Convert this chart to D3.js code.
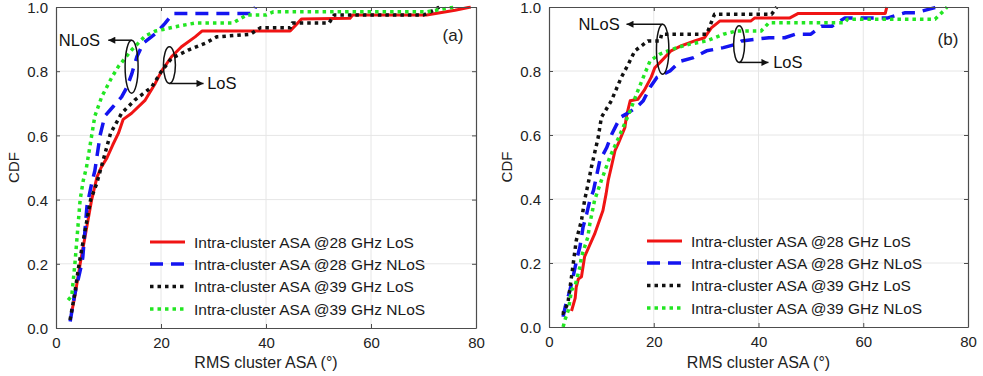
<!DOCTYPE html>
<html>
<head>
<meta charset="utf-8">
<script src="https://cdn.jsdelivr.net/npm/d3@7"></script>
<style>
  body { margin: 0; background: #fff; }
  svg { display: block; font-family: "Liberation Sans", Arial, sans-serif; }
</style>
</head>
<body>
<div id="chart"></div>
<script>
// tick values and labels
var xTicks = [0, 20, 40, 60, 80]
var yTicks = [0, 0.2, 0.4, 0.6, 0.8, 1.0]
var seriesNames = ["Intra-cluster ASA @28 GHz LoS", "Intra-cluster ASA @28 GHz NLoS",
                   "Intra-cluster ASA @39 GHz LoS", "Intra-cluster ASA @39 GHz NLoS"]
var xTitle = "RMS cluster ASA (\u00b0)"
var yTitle = "CDF"

// panel (a): [ASA, CDF] pairs
var a28LoS = [[3.0,0.05],[3.6,0.1],[4.6,0.2],[5.7,0.3],[6.8,0.4],[7.8,0.47],[8.6,0.5],[9.7,0.53],[10.8,0.57],[11.9,0.607],
  [12.8,0.65],[14.4,0.669],[17,0.71],[18.9,0.762],[20.1,0.8],[22,0.845],[23.9,0.876],[26.5,0.907],[27.8,0.925],
  [44.6,0.925],[46.8,0.963],[56,0.965],[56.5,0.975],[70.6,0.975],[76,0.99],[79,1.0]]
var a28NLoS = [[2.7,0.02],[3.5,0.1],[4.9,0.2],[5.1,0.22],[5.9,0.38],[6.8,0.45],[7.4,0.49],[8.4,0.6],[9.3,0.66],
  [10.9,0.69],[12.5,0.72],[13.5,0.75],[14.4,0.79],[15.4,0.845],[16.6,0.887],[19.2,0.92],[20.8,0.95],[22.3,0.98],
  [37.5,0.98],[38,1.0]]
var a39LoS = [[2.67,0.025],[3.5,0.1],[4.4,0.2],[5.5,0.3],[6.6,0.4],[7.75,0.45],[8.6,0.5],[10.4,0.607],[12.5,0.669],
  [15,0.71],[18.2,0.75],[20.1,0.8],[22,0.84],[25.2,0.866],[28.4,0.887],[30.6,0.907],[37,0.915],[38.9,0.935],
  [44.6,0.935],[45,0.95],[52,0.95],[53,0.975],[70,0.975],[72,0.99],[73,1.0]]
var a39NLoS = [[2.3,0.087],[3.0,0.1],[3.6,0.2],[4.1,0.3],[4.6,0.4],[5.2,0.46],[5.8,0.5],[6.8,0.6],[7.4,0.66],[8.7,0.72],
  [10.6,0.78],[11.9,0.815],[14.4,0.866],[17,0.91],[18.9,0.925],[20.4,0.93],[23.2,0.94],[26.5,0.95],[33.7,0.95],
  [36.3,0.975],[40,0.975],[41.4,0.985],[70.6,0.985],[76,1.0]]

// panel (b)
var b28LoS = [[4.3,0.05],[5.0,0.09],[5.2,0.125],[5.6,0.15],[6.2,0.157],[6.8,0.22],[8.7,0.29],[10.3,0.364],[10.9,0.416],
  [11.3,0.458],[11.9,0.5],[12.6,0.551],[13.2,0.572],[14.5,0.624],[14.8,0.66],[15.5,0.707],[17,0.712],[18.2,0.74],
  [19.5,0.78],[20.2,0.81],[21.4,0.83],[23.3,0.863],[25.3,0.879],[27.8,0.894],[29.7,0.904],[31,0.935],[32.6,0.956],
  [38.5,0.956],[39.3,0.966],[46,0.966],[47.6,0.98],[64.2,0.98],[64.5,1.0]]
var b28NLoS = [[2.7,0.032],[3.1,0.063],[4.0,0.115],[4.6,0.157],[5.4,0.219],[5.9,0.25],[6.5,0.312],[7.2,0.354],
  [7.8,0.396],[8.5,0.427],[9.7,0.52],[11.0,0.56],[12.0,0.603],[13.6,0.655],[14.8,0.666],[16.7,0.686],[18.0,0.707],
  [19.3,0.749],[20.6,0.78],[23.1,0.8],[25.0,0.83],[27.6,0.842],[30.1,0.863],[33.3,0.873],[35.8,0.884],[36.8,0.894],
  [42,0.904],[45,0.904],[47,0.915],[50,0.915],[52,0.94],[54,0.94],[56.5,0.966],[64.7,0.966],[68,0.982],[70,0.982],
  [73.7,0.998],[74.3,1.0]]
var b39LoS = [[2.4,0.043],[2.7,0.043],[3.6,0.074],[4.3,0.157],[5.2,0.27],[6.2,0.333],[6.8,0.396],[7.6,0.458],[8.1,0.5],
  [9.4,0.593],[10,0.655],[11.9,0.707],[13.8,0.78],[15.1,0.82],[16.4,0.863],[18.9,0.894],[21.2,0.894],[21.5,0.915],
  [30.1,0.915],[31.6,0.977],[42.5,0.977],[43.5,1.0]]
var b39NLoS = [[2.7,0.0],[3.0,0.02],[3.7,0.053],[4.3,0.115],[5.0,0.13],[5.9,0.188],[6.2,0.22],[7.4,0.28],[7.8,0.323],
  [8.7,0.396],[10.0,0.458],[11.6,0.53],[13.6,0.603],[15.5,0.676],[16.7,0.728],[18.0,0.78],[19.3,0.832],[21.2,0.853],
  [24.4,0.873],[26.9,0.884],[30.1,0.894],[33.3,0.915],[35.8,0.925],[40.5,0.925],[42,0.951],[56.5,0.951],[57,0.962],
  [73.7,0.962],[75.5,0.99],[76,1.0]]

// line styles, same order as seriesNames
var styles = [
  {color: "#f01414", width: 3, dash: null},
  {color: "#1414f0", width: 3.5, dash: "13,8"},
  {color: "#111111", width: 3.5, dash: "3.5,4"},
  {color: "#22e622", width: 3.5, dash: "3.5,4"}
]

var W = 983, H = 376
var svg = d3.select("#chart").append("svg").attr("width", W).attr("height", H)

var defs = svg.append("defs")
defs.append("marker").attr("id", "arrowhead")
    .attr("viewBox", "0 0 10 10").attr("refX", 10).attr("refY", 5)
    .attr("markerWidth", 8).attr("markerHeight", 7).attr("markerUnits", "userSpaceOnUse")
    .attr("orient", "auto")
  .append("path").attr("d", "M0,0 L10,5 L0,10 Z").attr("fill", "#111")

var panels = [
  {id: "a", box: {x0: 56, x1: 476, y0: 7, y1: 328}, series: [a28LoS, a28NLoS, a39LoS, a39NLoS],
   label: "(a)", labelPos: [453, 41], legendX: 94,
   notes: [
     {text: "NLoS", cx: 14.4, cy: 0.814, rx: 6.5, ry: 26.5, side: "top", tip: 9.96, textX: 8.4},
     {text: "LoS", cx: 21.6, cy: 0.819, rx: 6, ry: 18.3, side: "bottom", tip: 28.1, textX: 28.8}
   ]},
  {id: "b", box: {x0: 549, x1: 968, y0: 7, y1: 327}, series: [b28LoS, b28NLoS, b39LoS, b39NLoS],
   label: "(b)", labelPos: [948, 45], legendX: 98,
   notes: [
     {text: "NLoS", cx: 21.7, cy: 0.868, rx: 6.2, ry: 25, side: "top", tip: 14.8, textX: 13.5},
     {text: "LoS", cx: 36.3, cy: 0.884, rx: 5.5, ry: 18.3, side: "bottom", tip: 41.9, textX: 42.8}
   ]}
]

panels.forEach(function(p) { drawPanel(p) })

function drawPanel(p) {
  var b = p.box
  var x = d3.scaleLinear().domain([0, 80]).range([b.x0, b.x1])
  var y = d3.scaleLinear().domain([0, 1]).range([b.y1, b.y0])
  var g = svg.append("g")

  // grid
  g.selectAll(".gx").data(xTicks.slice(1, -1)).enter().append("line")
    .attr("x1", function(d) { return x(d) }).attr("x2", function(d) { return x(d) })
    .attr("y1", b.y0).attr("y2", b.y1)
    .attr("stroke", "#e6e6e6").attr("stroke-width", 1)
  g.selectAll(".gy").data(yTicks.slice(1, -1)).enter().append("line")
    .attr("y1", function(d) { return y(d) }).attr("y2", function(d) { return y(d) })
    .attr("x1", b.x0).attr("x2", b.x1)
    .attr("stroke", "#e6e6e6").attr("stroke-width", 1)

  // curves, clipped to the plot box
  defs.append("clipPath").attr("id", "clip" + p.id)
    .append("rect").attr("x", b.x0).attr("y", b.y0 - 1.5)
    .attr("width", b.x1 - b.x0).attr("height", b.y1 - b.y0 + 1.5)
  var line = d3.line().x(function(d) { return x(d[0]) }).y(function(d) { return y(d[1]) })
  var order = [0, 1, 2, 3]
  g.append("g").attr("clip-path", "url(#clip" + p.id + ")")
    .selectAll("path").data(order).enter().append("path")
    .attr("d", function(i) { return line(p.series[i]) })
    .attr("fill", "none")
    .attr("stroke", function(i) { return styles[i].color })
    .attr("stroke-width", function(i) { return styles[i].width })
    .attr("stroke-dasharray", function(i) { return styles[i].dash })
    .attr("stroke-linejoin", "round")

  // axes: bottom / left with labels, top / right as box with inner ticks
  var axisColor = "#4d4d4d"
  var axB = g.append("g").attr("transform", "translate(0," + b.y1 + ")")
    .call(d3.axisBottom(x).tickValues(xTicks).tickSizeInner(-4).tickSizeOuter(0).tickPadding(9).tickFormat(d3.format("d")))
  var axL = g.append("g").attr("transform", "translate(" + b.x0 + ",0)")
    .call(d3.axisLeft(y).tickValues(yTicks).tickSizeInner(-4).tickSizeOuter(0).tickPadding(8).tickFormat(d3.format(".1f")))
  var axT = g.append("g").attr("transform", "translate(0," + b.y0 + ")")
    .call(d3.axisTop(x).tickValues(xTicks).tickSizeInner(-4).tickSizeOuter(0).tickFormat(""))
  var axR = g.append("g").attr("transform", "translate(" + b.x1 + ",0)")
    .call(d3.axisRight(y).tickValues(yTicks).tickSizeInner(-4).tickSizeOuter(0).tickFormat(""))
  ;[axB, axL, axT, axR].forEach(function(a) {
    a.select(".domain").attr("stroke", axisColor).attr("stroke-width", 1.2)
    a.selectAll(".tick line").attr("stroke", axisColor)
    a.selectAll("text").attr("fill", "#222").attr("font-size", 15)
      .attr("font-family", "'Liberation Sans', Arial, sans-serif")
  })
  axL.selectAll("text").attr("dy", "0.38em")

  // axis titles
  g.append("text").attr("x", (b.x0 + b.x1) / 2).attr("y", 368)
    .attr("text-anchor", "middle").attr("font-size", 16).attr("fill", "#222").text(xTitle)
  g.append("text").attr("transform", "translate(" + (b.x0 - 37) + "," + ((b.y0 + b.y1) / 2) + ") rotate(-90)")
    .attr("text-anchor", "middle").attr("font-size", 15).attr("fill", "#222").text(yTitle)

  // panel label
  g.append("text").attr("x", p.labelPos[0]).attr("y", p.labelPos[1])
    .attr("text-anchor", "middle").attr("font-size", 17).attr("fill", "#222").text(p.label)

  // legend (no box)
  var rows = [86, 64, 41.5, 19]
  var lg = g.selectAll(".leg").data(order).enter().append("g")
    .attr("transform", function(i) { return "translate(" + (b.x0 + p.legendX) + "," + (b.y1 - rows[i]) + ")" })
  lg.append("line").attr("x1", 0).attr("x2", 35).attr("y1", 0).attr("y2", 0)
    .attr("stroke", function(i) { return styles[i].color })
    .attr("stroke-width", function(i) { return styles[i].width })
    .attr("stroke-dasharray", function(i) { return styles[i].dash })
  lg.append("text").attr("x", 44).attr("y", 5.5).attr("font-size", 15.5).attr("fill", "#1a1a1a")
    .text(function(i) { return seriesNames[i] })

  // LoS / NLoS callouts
  p.notes.forEach(function(n) {
    var cx = x(n.cx), cy = y(n.cy)
    var ay = n.side == "top" ? cy - n.ry : cy + n.ry
    g.append("ellipse").attr("cx", cx).attr("cy", cy).attr("rx", n.rx).attr("ry", n.ry)
      .attr("fill", "none").attr("stroke", "#111").attr("stroke-width", 1.5)
    g.append("line").attr("x1", cx).attr("y1", ay).attr("x2", x(n.tip)).attr("y2", ay)
      .attr("stroke", "#111").attr("stroke-width", 1.5).attr("marker-end", "url(#arrowhead)")
    g.append("text").attr("x", x(n.textX)).attr("y", ay + 6)
      .attr("text-anchor", n.tip < n.cx ? "end" : "start")
      .attr("font-size", 16.5).attr("fill", "#111").text(n.text)
  })
}
</script>
</body>
</html>
